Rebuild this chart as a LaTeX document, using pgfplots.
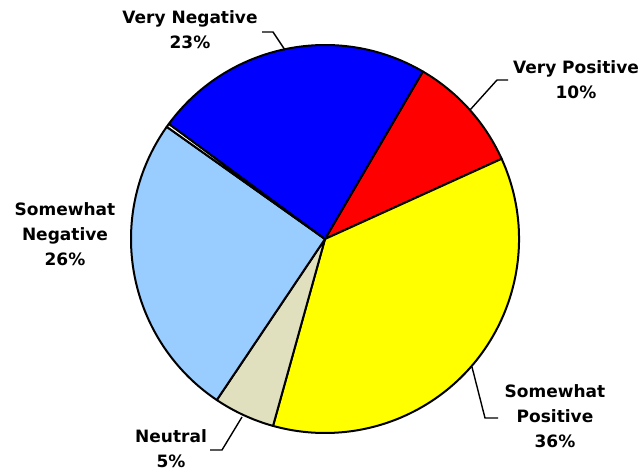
\documentclass[border=0pt]{standalone}
\usepackage{pgfplots}
\usepackage{pgfplotstable}
\pgfplotsset{compat=1.18}
\usepackage{fontspec}
\setmainfont{DejaVu Sans}

\definecolor{vpos}{HTML}{FF0000}
\definecolor{spos}{HTML}{FFFF00}
\definecolor{neut}{HTML}{E0E0BE}
\definecolor{sneg}{HTML}{99CCFF}
\definecolor{vneg}{HTML}{0000FF}
\definecolor{other}{HTML}{FFFFFF}

% shares in percent, clockwise from the top-right edge of "Very Positive"
\pgfplotstableread{
value color
9.8  vpos
36.1 spos
5.1  neut
25.4 sneg
0.3  other
23.3 vneg
}\piedata

\begin{document}
\begin{tikzpicture}
\begin{axis}[
    x=0.5pt, y=0.5pt,
    xmin=0, xmax=643, ymin=0, ymax=473,
    hide axis, clip=false,
    scale only axis,
]
% keep the whole 643x473 frame as the picture
\path (axis cs:0,0) rectangle (axis cs:643,473);

\pgfplotstablegetrowsof{\piedata}
\pgfmathtruncatemacro\nrows{\pgfplotsretval-1}
\xdef\curang{59.7}
\foreach \i in {0,...,\nrows}{
    \pgfplotstablegetelem{\i}{value}\of\piedata \let\v\pgfplotsretval
    \pgfplotstablegetelem{\i}{color}\of\piedata \let\c\pgfplotsretval
    \pgfmathsetmacro\endang{\curang-3.6*\v}
    \edef\temp{\noexpand\filldraw[fill=\c, draw=black, line width=1pt, line join=round]
        (axis cs:325,234) -- ++(\curang:97pt)
        arc[start angle=\curang, end angle=\endang, radius=97pt] -- cycle;}
    \temp
    \xdef\curang{\endang}
}

% leader lines
\draw[line width=0.7pt] (axis cs:262,441) -- (axis cs:273,441) -- (axis cs:285,423);
\draw[line width=0.7pt] (axis cs:508,393) -- (axis cs:497,393) -- (axis cs:470,363);
\draw[line width=0.7pt] (axis cs:210,23) -- (axis cs:222,23) -- (axis cs:242,56);
\draw[line width=0.7pt] (axis cs:498,55) -- (axis cs:485,55) -- (axis cs:472,106);

% labels
\tikzset{lbl/.style={align=center, font=\fontsize{8.5}{12.5}\selectfont\bfseries, inner sep=0pt}}
\node[lbl] at (axis cs:190,443) {Very Negative\\23\%};
\node[lbl] at (axis cs:576,393) {Very Positive\\10\%};
\node[lbl] at (axis cs:65,239) {Somewhat\\Negative\\26\%};
\node[lbl] at (axis cs:555,57) {Somewhat\\Positive\\36\%};
\node[lbl] at (axis cs:171,24) {Neutral\\5\%};
\end{axis}
\end{tikzpicture}
\end{document}
